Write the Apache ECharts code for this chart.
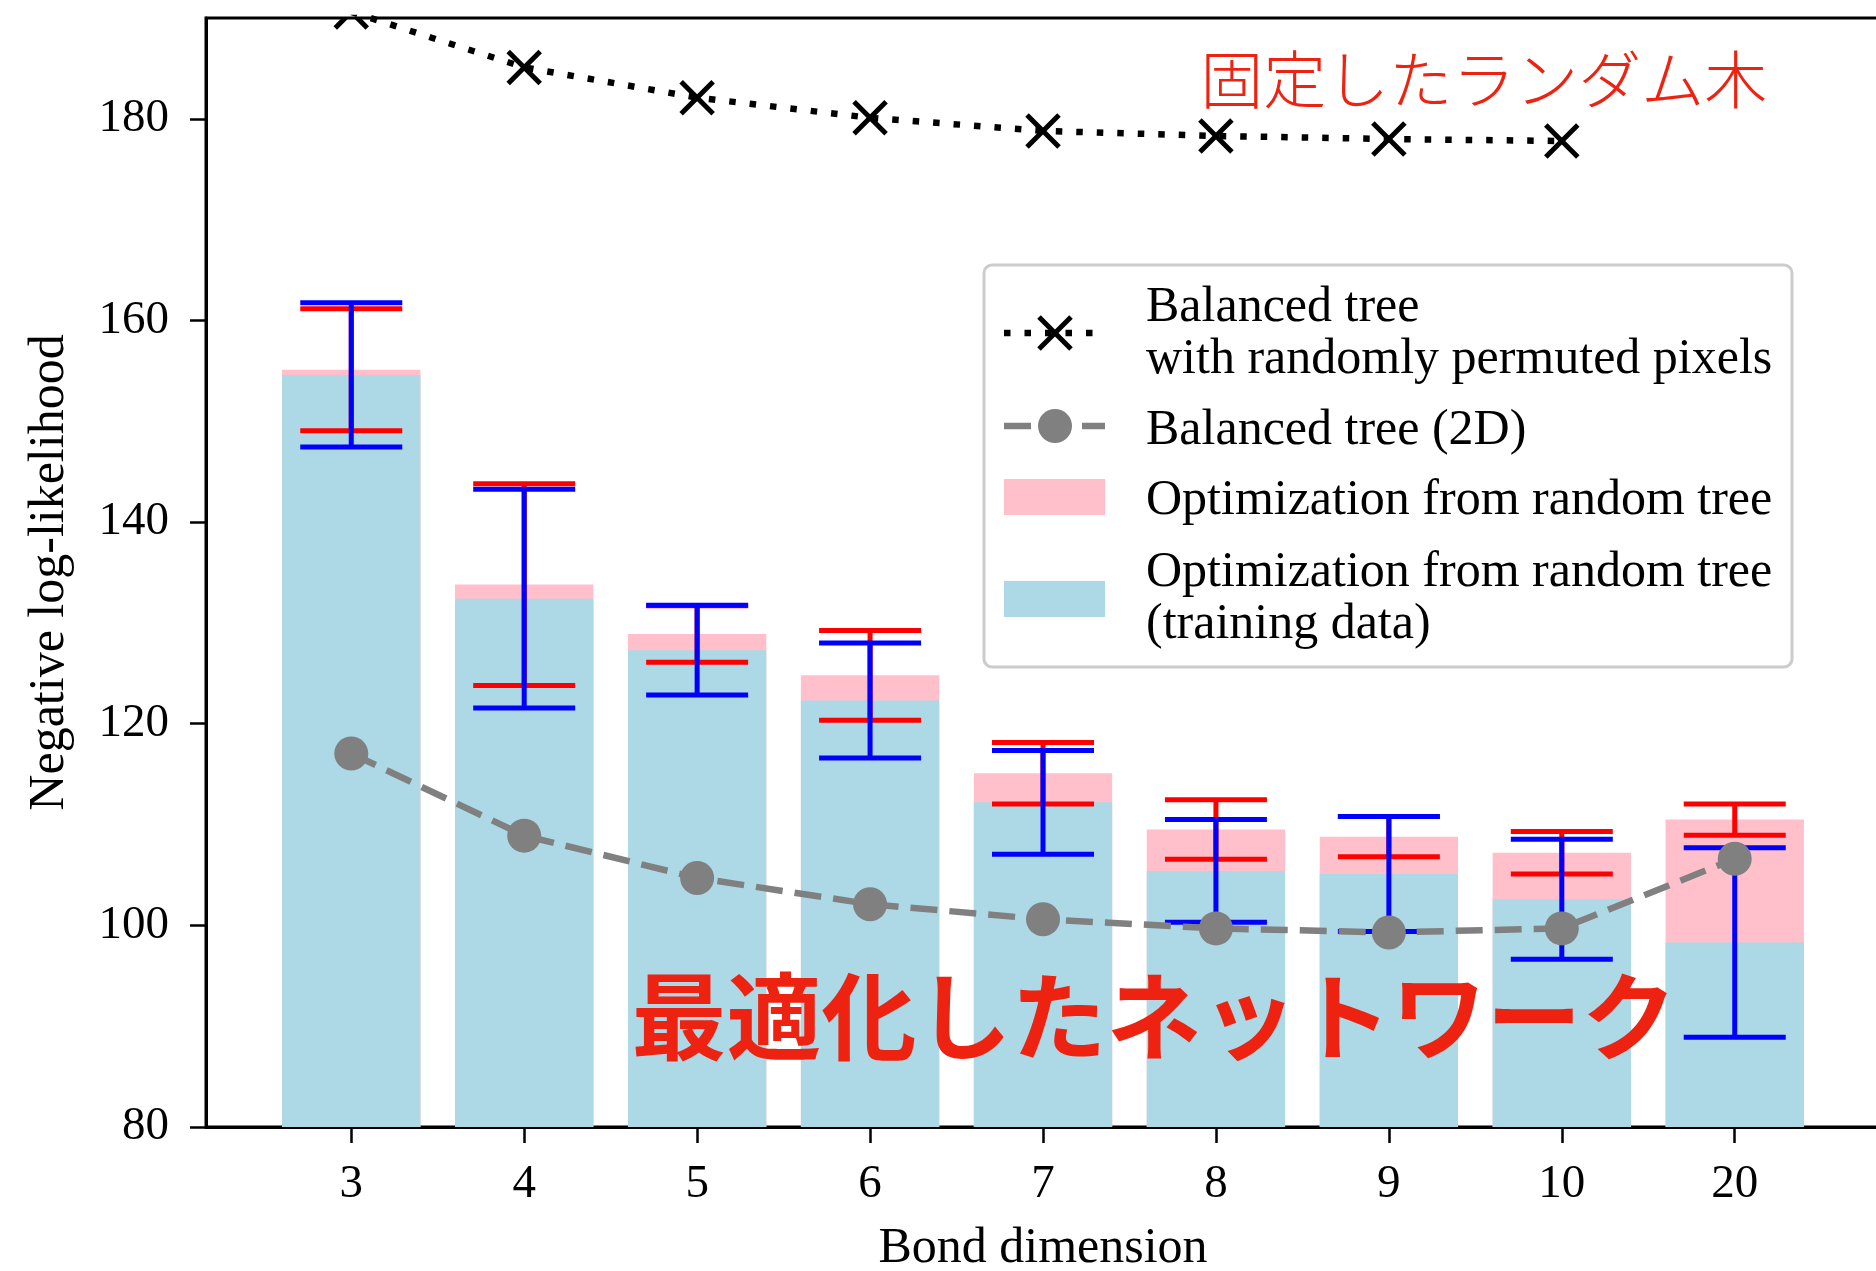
<!DOCTYPE html>
<html>
<head>
<meta charset="utf-8">
<script src="https://cdn.jsdelivr.net/npm/echarts@6/dist/echarts.min.js"></script>
<style>
  html, body { margin: 0; padding: 0; background: #fff; }
  #chart { width: 1876px; height: 1271px; }
</style>
</head>
<body>
<div id="chart"></div>
<script>
// Bond dimensions on the x axis
const bondDims = ['3', '4', '5', '6', '7', '8', '9', '10', '20'];
// y-axis ticks
const yTicks = [80, 100, 120, 140, 160, 180];

// Optimization from random tree (test data): mean NLL and spread
const testNLL = [155.1, 133.8, 128.9, 124.8, 115.1, 109.5, 108.8, 107.2, 110.5];
const testErr = [6.05, 10.0, 2.8, 4.45, 3.05, 2.95, 2.0, 2.1, 1.55];
// Optimization from random tree (training data): mean NLL and spread
const trainNLL = [154.6, 132.4, 127.3, 122.3, 112.2, 105.4, 105.1, 102.6, 98.3];
const trainErr = [7.15, 10.85, 4.45, 5.7, 5.15, 5.1, 5.7, 5.95, 9.4];
// Balanced tree (2D)
const balanced2D = [117.05, 108.9, 104.7, 102.1, 100.6, 99.7, 99.3, 99.7, 106.6];
// Balanced tree with randomly permuted pixels (no run for 20)
const permuted = [190.6, 185.1, 182.1, 180.1, 178.8, 178.3, 178.0, 177.8, null];

const legendLabels = [
  ['Balanced tree', 'with randomly permuted pixels'],
  ['Balanced tree (2D)'],
  ['Optimization from random tree'],
  ['Optimization from random tree', '(training data)']
];
const noteFixed = '固定したランダム木';
const noteOptimized = '最適化したネットワーク';

const SERIF = '"Liberation Serif", "Times New Roman", "DejaVu Serif", serif';
const CJK = '"Noto Sans CJK JP", "Noto Sans CJK SC", sans-serif';
const PINK = '#ffc0cb', LIGHTBLUE = '#add8e6', GRAY = '#808080';
const NOTE_RED = '#ee2211';

const idx = bondDims.map((_, i) => i);
const pairs = (arr) => arr.map((v, i) => [i, v]);
const triples = (vals, errs) => vals.map((v, i) => [i, v, errs[i]]);

function barItem(color) {
  return function (params, api) {
    const x = api.value(0), v = api.value(1);
    const top = api.coord([x, v]);
    const base = api.coord([x, 80]);
    const w = api.size([0.8, 0])[0];
    return {
      type: 'rect',
      shape: { x: top[0] - w / 2, y: top[1], width: w, height: base[1] - top[1] },
      style: { fill: color }
    };
  };
}

function errorBarItem(color) {
  return function (params, api) {
    const x = api.value(0), v = api.value(1), e = api.value(2);
    const hi = api.coord([x, v + e]);
    const lo = api.coord([x, v - e]);
    const cap = 51;
    const st = { stroke: color, lineWidth: 5 };
    return {
      type: 'group',
      children: [
        { type: 'line', shape: { x1: hi[0], y1: hi[1], x2: lo[0], y2: lo[1] }, style: st },
        { type: 'line', shape: { x1: hi[0] - cap, y1: hi[1], x2: hi[0] + cap, y2: hi[1] }, style: st },
        { type: 'line', shape: { x1: lo[0] - cap, y1: lo[1], x2: lo[0] + cap, y2: lo[1] }, style: st }
      ]
    };
  };
}

function crossItem(params, api) {
  const p = api.coord([api.value(0), api.value(1)]);
  const s = 16;
  const st = { stroke: '#000', lineWidth: 5 };
  return {
    type: 'group',
    children: [
      { type: 'line', shape: { x1: p[0] - s, y1: p[1] - s, x2: p[0] + s, y2: p[1] + s }, style: st },
      { type: 'line', shape: { x1: p[0] - s, y1: p[1] + s, x2: p[0] + s, y2: p[1] - s }, style: st }
    ]
  };
}

// Legend box drawn as graphic elements
function legendGraphics() {
  const els = [];
  els.push({ type: 'rect', shape: { x: 984, y: 265, width: 808, height: 402, r: 8 },
    style: { fill: 'rgba(255,255,255,0.8)', stroke: '#cccccc', lineWidth: 3 }, z: 100 });
  // dotted line with cross
  els.push({ type: 'line', shape: { x1: 1004, y1: 333, x2: 1105, y2: 333 },
    style: { stroke: '#000', lineWidth: 6.5, lineDash: [6.5, 14] }, z: 101 });
  els.push({ type: 'line', shape: { x1: 1039, y1: 317, x2: 1071, y2: 349 }, style: { stroke: '#000', lineWidth: 5 }, z: 102 });
  els.push({ type: 'line', shape: { x1: 1039, y1: 349, x2: 1071, y2: 317 }, style: { stroke: '#000', lineWidth: 5 }, z: 102 });
  // dashed line with circle
  els.push({ type: 'line', shape: { x1: 1004, y1: 426, x2: 1105, y2: 426 },
    style: { stroke: GRAY, lineWidth: 6.5, lineDash: [27, 12] }, z: 101 });
  els.push({ type: 'circle', shape: { cx: 1055, cy: 426, r: 17 }, style: { fill: GRAY }, z: 102 });
  // patches
  els.push({ type: 'rect', shape: { x: 1004, y: 479, width: 101, height: 36 }, style: { fill: PINK }, z: 101 });
  els.push({ type: 'rect', shape: { x: 1004, y: 581, width: 101, height: 36 }, style: { fill: LIGHTBLUE }, z: 101 });
  const rows = [
    [307.5, legendLabels[0][0]], [359.5, legendLabels[0][1]],
    [430.5, legendLabels[1][0]],
    [500.5, legendLabels[2][0]],
    [572.5, legendLabels[3][0]], [624.5, legendLabels[3][1]]
  ];
  rows.forEach(([y, t]) => {
    els.push({ type: 'text', x: 1146, y: y, z: 102,
      style: { text: t, fill: '#000', fontFamily: SERIF, fontSize: 50,
               align: 'left', verticalAlign: 'middle' } });
  });
  return els;
}

const chart = echarts.init(document.getElementById('chart'), null, { renderer: 'canvas' });

chart.setOption({
  animation: false,
  backgroundColor: '#fff',
  grid: {
    left: 206, right: -4, top: 18, bottom: 144,
    show: true, borderColor: '#000', borderWidth: 3, backgroundColor: 'transparent',
    containLabel: false, outerBoundsMode: 'none'
  },
  xAxis: {
    type: 'value', min: -0.84, max: 8.84,
    splitLine: { show: false },
    axisLine: { show: true, onZero: false, lineStyle: { color: '#000', width: 3 } },
    axisTick: { show: true, customValues: idx, length: 16, lineStyle: { color: '#000', width: 2.5 } },
    axisLabel: { customValues: idx, formatter: (v) => bondDims[Math.round(v)],
                 margin: 34, fontSize: 47, fontFamily: SERIF, color: '#000' },
    name: 'Bond dimension', nameLocation: 'middle', nameGap: 97,
    nameTextStyle: { fontSize: 50, fontFamily: SERIF, color: '#000' }
  },
  yAxis: {
    type: 'value', min: 80, max: 190, interval: 20,
    splitLine: { show: false },
    axisLine: { show: true, onZero: false, lineStyle: { color: '#000', width: 3 } },
    axisTick: { show: true, customValues: yTicks, length: 16, lineStyle: { color: '#000', width: 2.5 } },
    axisLabel: { customValues: yTicks, margin: 37, fontSize: 47, fontFamily: SERIF, color: '#000' },
    name: 'Negative log-likelihood', nameLocation: 'middle', nameGap: 131,
    nameTextStyle: { fontSize: 50, fontFamily: SERIF, color: '#000' }
  },
  series: [
    { name: 'test', type: 'custom', renderItem: barItem(PINK), data: pairs(testNLL), z: 2, clip: true },
    { name: 'train', type: 'custom', renderItem: barItem(LIGHTBLUE), data: pairs(trainNLL), z: 3, clip: true },
    { name: 'testErr', type: 'custom', renderItem: errorBarItem('#ff0000'), data: triples(testNLL, testErr), z: 4 },
    { name: 'trainErr', type: 'custom', renderItem: errorBarItem('#0000ff'), data: triples(trainNLL, trainErr), z: 5 },
    {
      name: 'Balanced tree (2D)', type: 'line', data: pairs(balanced2D), z: 6,
      symbol: 'circle', symbolSize: 34, showSymbol: true,
      itemStyle: { color: GRAY },
      lineStyle: { color: GRAY, width: 6.5, type: [27, 12] }
    },
    {
      name: 'Balanced tree with randomly permuted pixels', type: 'line',
      data: pairs(permuted), z: 7, symbol: 'none', clip: true,
      lineStyle: { color: '#000', width: 6.5, type: [6.5, 14] }
    },
    {
      name: 'permutedMarkers', type: 'custom', renderItem: crossItem, z: 8, clip: true,
      data: pairs(permuted).filter(d => d[1] !== null)
    }
  ]
});

// Annotations anchored in data coordinates
const pFixed = chart.convertToPixel({ gridIndex: 0 }, [4.91, 183.9]);
const pOpt = chart.convertToPixel({ gridIndex: 0 }, [1.62, 90.9]);
chart.setOption({
  graphic: [
    { type: 'text', x: pFixed[0], y: pFixed[1], z: 50,
      style: { text: noteFixed, fill: NOTE_RED, fontFamily: CJK, fontSize: 63, fontWeight: 300,
               align: 'left', verticalAlign: 'middle' } },
    { type: 'text', x: pOpt[0], y: pOpt[1], z: 50,
      style: { text: noteOptimized, fill: NOTE_RED, fontFamily: CJK, fontSize: 95, fontWeight: 'bold',
               align: 'left', verticalAlign: 'middle' } }
  ].concat(legendGraphics())
});
</script>
</body>
</html>
